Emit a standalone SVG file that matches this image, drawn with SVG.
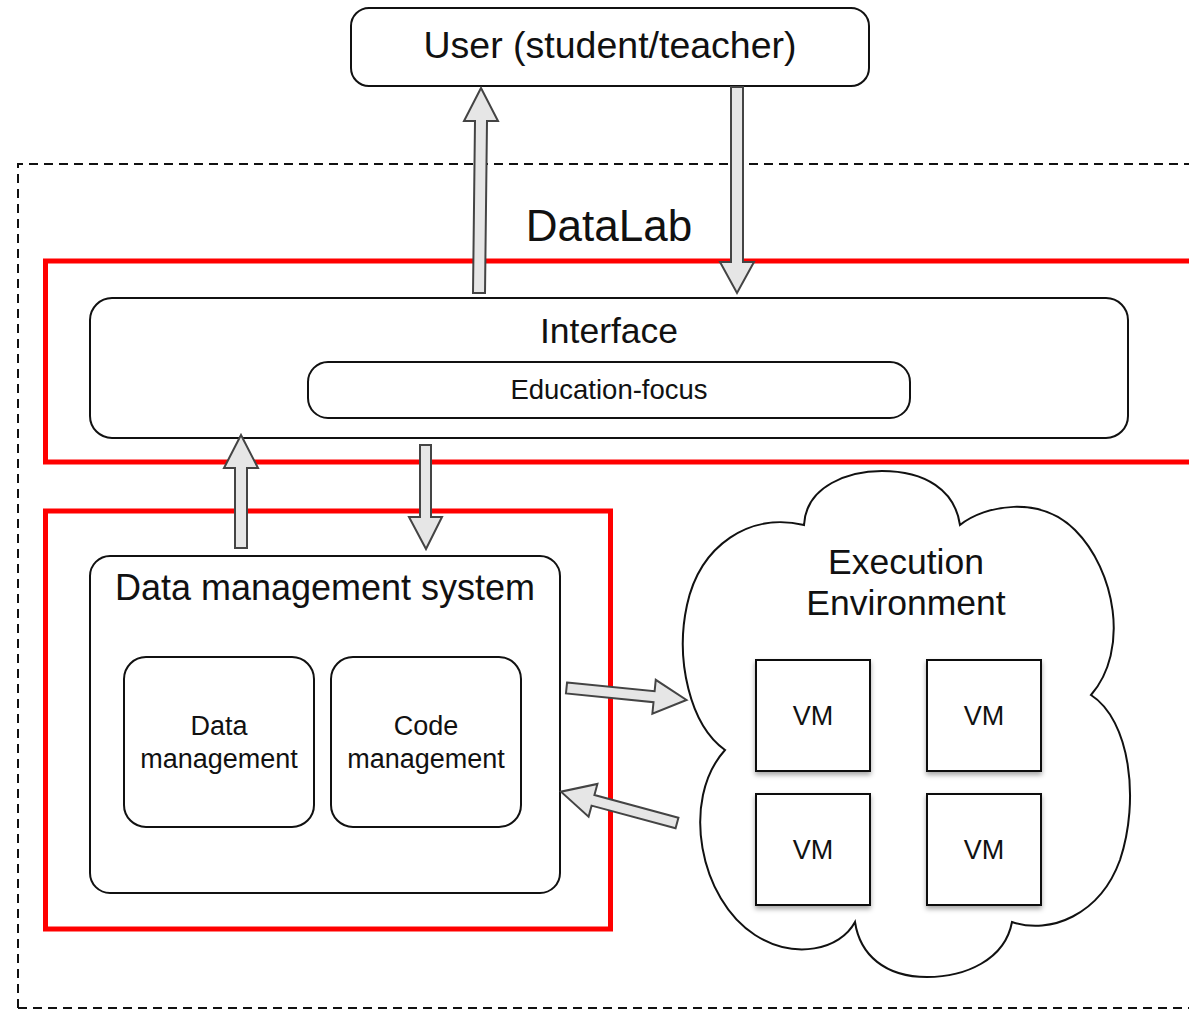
<svg xmlns="http://www.w3.org/2000/svg" width="1189" height="1011" viewBox="0 0 1189 1011">
<style>
.box{fill:#fff;stroke:#111;stroke-width:2}
.red{fill:none;stroke:#ff0000;stroke-width:5}
.dash{fill:none;stroke:#111;stroke-width:2;stroke-dasharray:9 6}
.arr{fill:#e6e6e6;stroke:#444;stroke-width:2;stroke-linejoin:miter}
.t{font-family:"Liberation Sans",Arial,sans-serif;fill:#111;text-anchor:middle}
.big{font-size:35.5px}
.sm{font-size:27px}
</style>
<defs>
<filter id="sh" x="-20%" y="-20%" width="140%" height="150%">
<feDropShadow dx="0" dy="3" stdDeviation="2.5" flood-color="#000" flood-opacity="0.35"/>
</filter>
</defs>
<rect width="1189" height="1011" fill="#fff"/>
<g id="datalab">
<path class="dash" d="M18,1008 V164 H1189"/>
<path class="dash" d="M18,1008 H1189"/>
<text class="t" x="609" y="241" font-size="44">DataLab</text>
</g>
<g id="highlights">
<rect class="red" x="45.5" y="261" width="1160" height="201"/>
<rect class="red" x="45.5" y="511" width="565" height="418"/>
</g>
<g id="user">
<rect class="box" x="351" y="8" width="518" height="78" rx="18"/>
<text class="t" x="610" y="58" font-size="37.5">User (student/teacher)</text>
</g>
<g id="interface">
<rect class="box" x="90" y="298" width="1038" height="140" rx="22"/>
<text class="t big" x="609" y="343">Interface</text>
</g>
<g id="education-focus">
<rect class="box" x="308" y="362" width="602" height="56" rx="20"/>
<text class="t" x="609" y="399" font-size="27.5">Education-focus</text>
</g>
<g id="dms">
<rect class="box" x="90" y="556" width="470" height="337" rx="20"/>
<text class="t" x="325" y="600" font-size="36">Data management system</text>
</g>
<g id="data-management">
<rect class="box" x="124" y="657" width="190" height="170" rx="22"/>
<text class="t sm" x="219" y="735">Data</text>
<text class="t sm" x="219" y="768">management</text>
</g>
<g id="code-management">
<rect class="box" x="331" y="657" width="190" height="170" rx="22"/>
<text class="t sm" x="426" y="735">Code</text>
<text class="t sm" x="426" y="768">management</text>
</g>
<g id="execution-environment">
<path class="box" d="M804,525 C806,485 850,471 882,471 C925,471 955,490 960,525 C985,505 1040,495 1075,530 C1115,570 1130,650 1091,695 C1130,720 1140,800 1120,860 C1100,915 1050,935 1012,922 C1005,960 965,977 927,977 C885,977 860,955 855,922 C840,950 795,960 755,935 C700,900 680,800 725,750 C690,725 675,660 687,605 C700,545 750,512 804,525 Z"/>
<text class="t big" x="906" y="574">Execution</text>
<text class="t big" x="906" y="615">Environment</text>
</g>
<g id="vm1">
<rect class="box" x="756" y="660" width="114" height="111" filter="url(#sh)"/>
<text class="t sm" x="813" y="725">VM</text>
</g>
<g id="vm2">
<rect class="box" x="927" y="660" width="114" height="111" filter="url(#sh)"/>
<text class="t sm" x="984" y="725">VM</text>
</g>
<g id="vm3">
<rect class="box" x="756" y="794" width="114" height="111" filter="url(#sh)"/>
<text class="t sm" x="813" y="859">VM</text>
</g>
<g id="vm4">
<rect class="box" x="927" y="794" width="114" height="111" filter="url(#sh)"/>
<text class="t sm" x="984" y="859">VM</text>
</g>
<g id="connectors">
<polygon class="arr" points="481,88 498,121 487,121 485,293 473,293 475,121 464,121"/>
<polygon class="arr" points="731,87 743,87 743,262 754,262 737,293 720,262 731,262"/>
<polygon class="arr" points="241,435 258,468 247,468 247,548 235,548 235,468 224,468"/>
<polygon class="arr" points="420,445 431,445 431,517 442,517 426,549 409,517 420,517"/>
<g transform="translate(566.5,688) rotate(5.7)">
<polygon class="arr" points="0,-5.5 88,-5.5 88,-17 120.6,0 88,17 88,5.5 0,5.5"/>
</g>
<g transform="translate(677,823) rotate(195.1)">
<polygon class="arr" points="0,-5.5 87,-5.5 87,-17 120.2,0 87,17 87,5.5 0,5.5"/>
</g>
</g>
</svg>
